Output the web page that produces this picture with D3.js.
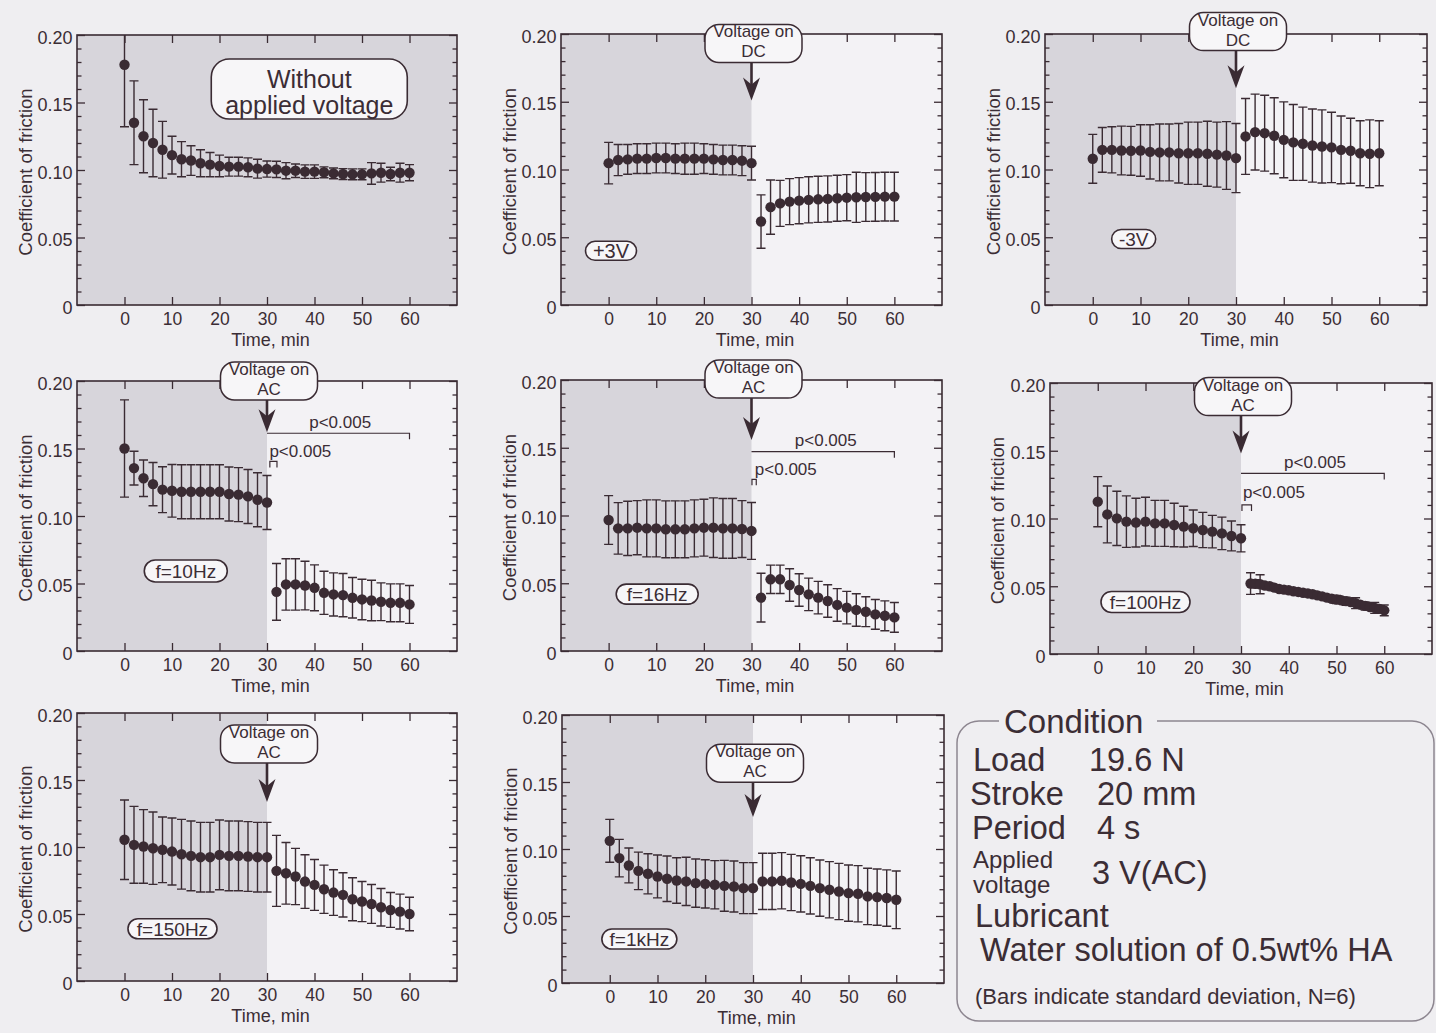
<!DOCTYPE html>
<html>
<head>
<meta charset="utf-8">
<script src="https://cdn.jsdelivr.net/npm/d3@7"></script>
<style>
  html, body { margin: 0; padding: 0; background: #efeef1; }
  svg { display: block; }
  text { font-family: "Liberation Sans", Arial, Helvetica, sans-serif; fill: #3b2d35; }
</style>
</head>
<body>
<svg id="fig" width="1436" height="1033"></svg>
<script>
// ---------- sampling times (min) ----------
const minutes = [0,2,4,6,8,10,12,14,16,18,20,22,24,26,28,30,32,34,36,38,40,42,44,46,48,50,52,54,56,58,60];
const minutesBeforeOn = [0,2,4,6,8,10,12,14,16,18,20,22,24,26,28,30];
const minutesDenseAfterOn = [32,33,34,35,36,37,38,39,40,41,42,43,44,45,46,47,48,49,50,51,52,53,54,55,56,57,58,59,60];

// ---------- axis ticks ----------
const timeTicks = [0,10,20,30,40,50,60];
const yTicks = [0,0.05,0.10,0.15,0.20];
const yTickLabels = ["0","0.05","0.10","0.15","0.20"];
const yMinorTicks = [0.01,0.02,0.03,0.04,0.06,0.07,0.08,0.09,0.11,0.12,0.13,0.14,0.16,0.17,0.18,0.19];

// ---------- coefficient of friction: mean and standard deviation ----------
// without applied voltage
const cofNone = [0.178,0.135,0.125,0.120,0.115,0.111,0.108,0.107,0.105,0.104,0.103,0.1025,0.1025,0.102,0.101,0.1007,
                 0.1005,0.0995,0.0995,0.0988,0.0988,0.0983,0.0975,0.097,0.0968,0.0968,0.0975,0.098,0.097,0.098,0.098];
const sdNone  = [0.046,0.031,0.027,0.025,0.021,0.014,0.013,0.011,0.010,0.009,0.008,0.007,0.007,0.007,0.007,0.006,
                 0.006,0.006,0.005,0.005,0.005,0.004,0.004,0.004,0.004,0.004,0.008,0.007,0.005,0.007,0.006];
// DC +3 V
const cofDcPlus = [0.1047,0.107,0.1075,0.108,0.108,0.1085,0.1085,0.108,0.108,0.108,0.108,0.1075,0.107,0.107,0.1065,0.1047,
                   0.0616,0.0722,0.075,0.0763,0.0770,0.0776,0.0780,0.0783,0.0788,0.0792,0.0795,0.0797,0.0798,0.080,0.080];
const sdDcPlus  = [0.0153,0.0115,0.011,0.011,0.011,0.011,0.011,0.011,0.0115,0.0115,0.011,0.011,0.011,0.011,0.011,0.0125,
                   0.0197,0.020,0.017,0.017,0.017,0.017,0.017,0.017,0.017,0.017,0.0185,0.018,0.018,0.018,0.018];
// DC -3 V
const cofDcMinus = [0.1079,0.1145,0.1145,0.114,0.1138,0.114,0.113,0.1126,0.1126,0.112,0.112,0.112,0.1116,0.111,0.1103,0.1084,
                    0.1244,0.1276,0.1268,0.1249,0.1219,0.120,0.119,0.1177,0.117,0.1163,0.1145,0.1138,0.112,0.1116,0.112];
const sdDcMinus  = [0.018,0.0165,0.017,0.018,0.018,0.019,0.020,0.021,0.021,0.022,0.023,0.023,0.024,0.024,0.025,0.0255,
                    0.028,0.028,0.028,0.028,0.028,0.028,0.027,0.027,0.027,0.026,0.025,0.024,0.024,0.025,0.024];
// AC 10 Hz
const cofAc10 = [0.150,0.1355,0.128,0.1236,0.1195,0.1187,0.118,0.118,0.118,0.118,0.118,0.1163,0.1158,0.1145,0.112,0.110,
                 0.0438,0.0493,0.0493,0.0485,0.0468,0.0431,0.0419,0.0414,0.0394,0.0382,0.0374,0.0365,0.0357,0.0357,0.0345];
const sdAc10  = [0.036,0.0125,0.0135,0.016,0.017,0.0195,0.020,0.020,0.020,0.020,0.020,0.020,0.020,0.020,0.020,0.020,
                 0.021,0.019,0.019,0.018,0.017,0.016,0.016,0.016,0.015,0.015,0.015,0.014,0.014,0.014,0.014];
// AC 16 Hz
const cofAc16 = [0.0967,0.0905,0.0905,0.091,0.0905,0.0905,0.0898,0.0898,0.0898,0.0905,0.091,0.091,0.0905,0.0905,0.090,0.0886,
                 0.0394,0.0529,0.0529,0.0487,0.045,0.0418,0.0394,0.0369,0.034,0.032,0.0303,0.029,0.027,0.026,0.0248];
const sdAc16  = [0.018,0.019,0.020,0.020,0.021,0.021,0.021,0.021,0.021,0.021,0.021,0.022,0.022,0.022,0.021,0.021,
                 0.018,0.0105,0.0105,0.012,0.012,0.012,0.012,0.012,0.012,0.012,0.012,0.011,0.011,0.011,0.011];
// AC 100 Hz (recorded every minute once the voltage is on)
const cofAc100Before = [0.1124,0.103,0.1001,0.0977,0.097,0.0977,0.0964,0.0964,0.0952,0.094,0.0928,0.0915,0.0903,0.089,0.0871,0.0854];
const sdAc100Before  = [0.0185,0.021,0.020,0.019,0.018,0.018,0.017,0.017,0.016,0.015,0.0135,0.013,0.012,0.012,0.011,0.010];
const cofAc100After = [0.052,0.0518,0.0515,0.0505,0.050,0.049,0.048,0.0475,0.047,0.0463,0.0458,0.0452,0.0447,0.0441,0.0433,
                       0.0425,0.0416,0.0408,0.0402,0.0397,0.039,0.0383,0.0375,0.0364,0.0355,0.0347,0.034,0.0333,0.0322];
const sdAc100After  = [0.008,0.003,0.007,0.002,0.002,0.002,0.002,0.002,0.002,0.002,0.002,0.002,0.002,0.002,0.002,
                       0.002,0.002,0.002,0.003,0.002,0.003,0.002,0.004,0.002,0.003,0.002,0.004,0.002,0.004];
// AC 150 Hz
const cofAc150 = [0.1054,0.1016,0.1004,0.0991,0.0979,0.0966,0.0946,0.0934,0.0924,0.0924,0.0941,0.0934,0.0934,0.0929,0.0924,0.0924,
                  0.0822,0.0804,0.078,0.0742,0.0717,0.0685,0.066,0.0643,0.061,0.0593,0.0575,0.055,0.053,0.0518,0.050];
const sdAc150  = [0.0297,0.0287,0.0275,0.027,0.0245,0.025,0.026,0.026,0.026,0.026,0.026,0.026,0.026,0.026,0.026,0.026,
                  0.0265,0.023,0.021,0.020,0.019,0.018,0.017,0.0165,0.016,0.015,0.0145,0.014,0.013,0.013,0.0125];
// AC 1 kHz
const cofAc1k = [0.1061,0.0932,0.0877,0.0837,0.0815,0.0795,0.0778,0.0765,0.0758,0.0745,0.074,0.0733,0.0725,0.072,0.0708,0.0708,
                 0.0758,0.0758,0.0763,0.075,0.074,0.0725,0.0708,0.0696,0.0683,0.0671,0.0666,0.0646,0.0641,0.0634,0.0621];
const sdAc1k  = [0.016,0.014,0.013,0.014,0.015,0.016,0.017,0.017,0.018,0.018,0.018,0.018,0.019,0.019,0.019,0.019,
                 0.021,0.021,0.021,0.021,0.021,0.021,0.021,0.021,0.021,0.021,0.021,0.021,0.021,0.021,0.0215];

// ---------- condition box text ----------
const conditionRows = [
  { label: "Load",    value: "19.6 N" },
  { label: "Stroke",  value: "20 mm" },
  { label: "Period",  value: "4 s" },
  { label: "Applied\nvoltage", value: "3 V(AC)" },
  { label: "Lubricant", value: "" },
  { label: "", value: "Water solution of 0.5wt% HA" },
  { label: "", value: "(Bars indicate standard deviation, N=6)" }
];

// ---------- panel layout ----------
const ink = "#3a2b33";
const panels = [
  { id: "none", x0: 77, y0: 35, w: 380, h: 270, shadeTo: 70, titleX: 32,
    series: [{ t: minutes, m: cofNone, s: sdNone }],
    tag: { lines: ["Without", "applied voltage"], t: 38.9, v: 0.160, w: 196, h: 60, rx: 18, size: 25, base: [-0.7, 25] } },
  { id: "dcp", x0: 561, y0: 34, w: 381, h: 271, shadeTo: 30, titleX: 516,
    series: [{ t: minutes, m: cofDcPlus, s: sdDcPlus }],
    callout: { kind: "DC", box: 0.193, tip: 0.151 },
    tag: { lines: ["+3V"], t: 0.5, v: 0.040, w: 51, h: 19, size: 20 } },
  { id: "dcm", x0: 1045, y0: 34, w: 382, h: 271, shadeTo: 30, titleX: 1000,
    series: [{ t: minutes, m: cofDcMinus, s: sdDcMinus }],
    callout: { kind: "DC", box: 0.2018, tip: 0.160 },
    tag: { lines: ["-3V"], t: 8.57, v: 0.0487, w: 44, h: 19, size: 19 } },
  { id: "ac10", x0: 77, y0: 381, w: 380, h: 270, shadeTo: 30, titleX: 32,
    series: [{ t: minutes, m: cofAc10, s: sdAc10 }],
    callout: { kind: "AC", box: 0.200, tip: 0.162 },
    pval: { long: 0.1613, longText: { t: 45.4, v: 0.1655 }, small: [30.6, 32.1, 0.1404], smallText: { t: 30.5, v: 0.1440 } },
    tag: { lines: ["f=10Hz"], t: 12.9, v: 0.0593, w: 83, h: 22, size: 19 } },
  { id: "ac16", x0: 561, y0: 380, w: 381, h: 271, shadeTo: 30, titleX: 516,
    series: [{ t: minutes, m: cofAc16, s: sdAc16 }],
    callout: { kind: "AC", box: 0.2007, tip: 0.1557 },
    pval: { long: 0.1471, longText: { t: 45.6, v: 0.1515 }, small: [30.1, 31.0, 0.1267], smallText: { t: 30.7, v: 0.1299 } },
    tag: { lines: ["f=16Hz"], t: 10.2, v: 0.042, w: 82, h: 20, size: 19 } },
  { id: "ac100", x0: 1050, y0: 383, w: 382, h: 271, shadeTo: 30, titleX: 1004,
    series: [{ t: minutesBeforeOn, m: cofAc100Before, s: sdAc100Before },
             { t: minutesDenseAfterOn, m: cofAc100After, s: sdAc100After }],
    callout: { kind: "AC", box: 0.190, tip: 0.148 },
    pval: { long: 0.1333, longText: { t: 45.5, v: 0.1374 }, small: [30.2, 32.2, 0.1100], smallText: { t: 30.4, v: 0.1153 } },
    tag: { lines: ["f=100Hz"], t: 10.0, v: 0.0384, w: 89, h: 21, size: 19 } },
  { id: "ac150", x0: 77, y0: 713, w: 380, h: 268, shadeTo: 30, titleX: 32,
    series: [{ t: minutes, m: cofAc150, s: sdAc150 }],
    callout: { kind: "AC", box: 0.1769, tip: 0.1336 },
    tag: { lines: ["f=150Hz"], t: 10.1, v: 0.039, w: 89, h: 20, size: 19 } },
  { id: "ac1k", x0: 562, y0: 715, w: 382, h: 268, shadeTo: 30, titleX: 517,
    series: [{ t: minutes, m: cofAc1k, s: sdAc1k }],
    callout: { kind: "AC", box: 0.164, tip: 0.1238 },
    tag: { lines: ["f=1kHz"], t: 6.2, v: 0.0328, w: 75, h: 20, size: 19 } }
];

const svg = d3.select("#fig");
svg.append("rect").attr("width", 1436).attr("height", 1033).attr("fill", "#efeef1");
const defs = svg.append("defs");

function styleAxis(sel, size) {
  sel.attr("color", ink).attr("font-size", size)
     .attr("font-family", "'Liberation Sans', Arial, Helvetica, sans-serif");
  sel.select(".domain").remove();
  sel.selectAll(".tick line").attr("stroke-width", 1.3);
}

// multi-line label kept in a single text element
function multiline(parent, x, y, lines, baselines, size, anchor) {
  const t = parent.append("text").attr("x", x).attr("y", y)
    .attr("font-size", size).attr("text-anchor", anchor || "middle");
  lines.forEach((ln, i) => t.append("tspan").attr("x", x).attr("y", y + baselines[i]).text(ln));
  return t;
}

function drawPanel(p) {
  const x = d3.scaleLinear().domain([-10, 70]).range([p.x0, p.x0 + p.w]);
  const y = d3.scaleLinear().domain([0, 0.2]).range([p.y0 + p.h, p.y0]);
  const g = svg.append("g").attr("class", "panel-" + p.id);

  defs.append("clipPath").attr("id", "clip-" + p.id)
    .append("rect").attr("x", p.x0).attr("y", p.y0).attr("width", p.w).attr("height", p.h);

  // plot area and the shaded interval before the voltage is switched on
  g.append("rect").attr("x", p.x0).attr("y", p.y0).attr("width", p.w).attr("height", p.h)
    .attr("fill", "#f3f2f5");
  g.append("rect").attr("x", x(-10)).attr("y", p.y0)
    .attr("width", x(p.shadeTo) - x(-10)).attr("height", p.h).attr("fill", "#d7d5db");

  // error bars and mean markers
  const marks = g.append("g").attr("clip-path", `url(#clip-${p.id})`);
  p.series.forEach(s => {
    const pts = s.t.map((t, i) => ({ t, m: s.m[i], s: s.s[i] }));
    marks.append("path")
      .attr("d", pts.map(d => {
        const cx = x(d.t), top = y(d.m + d.s), bot = y(d.m - d.s);
        return `M${cx},${top}V${bot}M${cx - 4.5},${top}H${cx + 4.5}M${cx - 4.5},${bot}H${cx + 4.5}`;
      }).join(""))
      .attr("fill", "none").attr("stroke", ink).attr("stroke-width", 1.4);
    marks.selectAll(null).data(pts).join("circle")
      .attr("cx", d => x(d.t)).attr("cy", d => y(d.m)).attr("r", 5.2).attr("fill", ink);
  });

  // frame
  g.append("rect").attr("x", p.x0).attr("y", p.y0).attr("width", p.w).attr("height", p.h)
    .attr("fill", "none").attr("stroke", ink).attr("stroke-width", 1.6);

  // axes with inward ticks on all four sides
  g.append("g").attr("transform", `translate(${p.x0},0)`)
    .call(d3.axisLeft(y).tickValues(yTicks).tickSize(-8).tickPadding(4.5)
      .tickFormat((d, i) => yTickLabels[i]))
    .call(a => styleAxis(a, 18))
    .call(a => a.selectAll("text").attr("dy", "0.45em"));
  g.append("g").attr("transform", `translate(${p.x0},0)`)
    .call(d3.axisLeft(y).tickValues(yMinorTicks).tickSize(-4.5).tickFormat(""))
    .call(a => styleAxis(a, 18));
  g.append("g").attr("transform", `translate(${p.x0 + p.w},0)`)
    .call(d3.axisRight(y).tickValues(yTicks).tickSize(-8).tickFormat(""))
    .call(a => styleAxis(a, 18));
  g.append("g").attr("transform", `translate(${p.x0 + p.w},0)`)
    .call(d3.axisRight(y).tickValues(yMinorTicks).tickSize(-4.5).tickFormat(""))
    .call(a => styleAxis(a, 18));
  g.append("g").attr("transform", `translate(0,${p.y0 + p.h})`)
    .call(d3.axisBottom(x).tickValues(timeTicks).tickSize(-8).tickPadding(8).tickFormat(d => String(d)))
    .call(a => styleAxis(a, 17.5));
  g.append("g").attr("transform", `translate(0,${p.y0})`)
    .call(d3.axisTop(x).tickValues(timeTicks).tickSize(-8).tickFormat(""))
    .call(a => styleAxis(a, 17.5));

  // axis titles
  g.append("text").attr("x", x(30) + 3.5).attr("y", p.y0 + p.h + 41)
    .attr("text-anchor", "middle").attr("font-size", 18).text("Time, min");
  g.append("text")
    .attr("transform", `translate(${p.titleX},${p.y0 + p.h / 2 + 2}) rotate(-90)`)
    .attr("text-anchor", "middle").attr("font-size", 18.5).text("Coefficient of friction");

  // p-value brackets
  if (p.pval) {
    const pv = p.pval;
    g.append("path")
      .attr("d", `M${x(30)},${y(pv.long)}H${x(60)}V${y(pv.long) + 6}`)
      .attr("fill", "none").attr("stroke", ink).attr("stroke-width", 1.2);
    g.append("text").attr("x", x(pv.longText.t)).attr("y", y(pv.longText.v))
      .attr("text-anchor", "middle").attr("font-size", 17).text("p<0.005");
    const [a, b, lv] = pv.small;
    g.append("path")
      .attr("d", `M${x(a)},${y(lv) + 6}V${y(lv)}H${x(b)}V${y(lv) + 6}`)
      .attr("fill", "none").attr("stroke", ink).attr("stroke-width", 1.2);
    g.append("text").attr("x", x(pv.smallText.t)).attr("y", y(pv.smallText.v))
      .attr("font-size", 17).text("p<0.005");
  }

  // "Voltage on" callout with arrow pointing at t = 30 min
  if (p.callout) {
    const ax = x(30), cx = ax + 2, cy = y(p.callout.box), tip = y(p.callout.tip);
    const bw = 97, bh = 38;
    g.append("path")
      .attr("d", `M${ax},${cy + bh / 2}V${tip - 14}`)
      .attr("stroke", ink).attr("stroke-width", 2.6);
    g.append("path")
      .attr("d", `M${ax},${tip}L${ax - 8.5},${tip - 23}L${ax},${tip - 16}L${ax + 8.5},${tip - 23}Z`)
      .attr("fill", ink);
    g.append("rect").attr("x", cx - bw / 2).attr("y", cy - bh / 2).attr("width", bw).attr("height", bh)
      .attr("rx", 14).attr("fill", "#f7f6f8").attr("stroke", ink).attr("stroke-width", 1.5);
    multiline(g, cx, cy, ["Voltage on", p.callout.kind], [-6, 14], 17);
  }

  // condition tag
  if (p.tag) {
    const tg = p.tag, cx = x(tg.t), cy = y(tg.v);
    g.append("rect").attr("x", cx - tg.w / 2).attr("y", cy - tg.h / 2)
      .attr("width", tg.w).attr("height", tg.h).attr("rx", tg.rx || tg.h / 2)
      .attr("fill", "#f7f6f8").attr("stroke", ink).attr("stroke-width", 1.6);
    if (tg.lines.length === 1) {
      g.append("text").attr("x", cx).attr("y", cy).attr("dy", "0.36em")
        .attr("text-anchor", "middle").attr("font-size", tg.size).text(tg.lines[0]);
    } else {
      multiline(g, cx, cy, tg.lines, tg.base, tg.size);
    }
  }
}

panels.forEach(drawPanel);

// ---------- condition box ----------
const cb = { x0: 957, y0: 721, x1: 1434, y1: 1021, r: 22, gapFrom: 999, gapTo: 1157 };
const box = svg.append("g").attr("class", "condition");
box.append("path")
  .attr("d", `M${cb.gapFrom},${cb.y0}H${cb.x0 + cb.r}A${cb.r},${cb.r} 0 0 0 ${cb.x0},${cb.y0 + cb.r}` +
             `V${cb.y1 - cb.r}A${cb.r},${cb.r} 0 0 0 ${cb.x0 + cb.r},${cb.y1}` +
             `H${cb.x1 - cb.r}A${cb.r},${cb.r} 0 0 0 ${cb.x1},${cb.y1 - cb.r}` +
             `V${cb.y0 + cb.r}A${cb.r},${cb.r} 0 0 0 ${cb.x1 - cb.r},${cb.y0}H${cb.gapTo}`)
  .attr("fill", "none").attr("stroke", "#8d8690").attr("stroke-width", 1.5);
box.append("text").attr("x", 1004).attr("y", 733).attr("font-size", 33).text("Condition");

// the listed conditions form one text block, each entry placed as its own tspan
const rowPos = [
  { lx: 973, vx: 1089, y: 771, size: 32.5 },
  { lx: 970, vx: 1097, y: 805, size: 32.5 },
  { lx: 972, vx: 1097, y: 839, size: 32.5 },
  { lx: 973, vx: 1092, y: 884, size: 32.5, labelSize: 24, labelY: [868, 893] },
  { lx: 975, vx: 0,    y: 927, size: 32.5 },
  { lx: 0,   vx: 980,  y: 961, size: 32.5 },
  { lx: 0,   vx: 975,  y: 1004, size: 22 }
];
const block = box.append("text").attr("font-size", 32.5);
conditionRows.forEach((row, i) => {
  const pos = rowPos[i];
  if (row.label) {
    const parts = row.label.split("\n");
    parts.forEach((pt, j) => block.append("tspan")
      .attr("x", pos.lx)
      .attr("y", parts.length === 1 ? pos.y : pos.labelY[j])
      .attr("font-size", parts.length === 1 ? pos.size : pos.labelSize)
      .text(pt));
  }
  if (row.value) {
    block.append("tspan").attr("x", pos.vx).attr("y", pos.y).attr("font-size", pos.size).text(row.value);
  }
});
</script>
</body>
</html>
